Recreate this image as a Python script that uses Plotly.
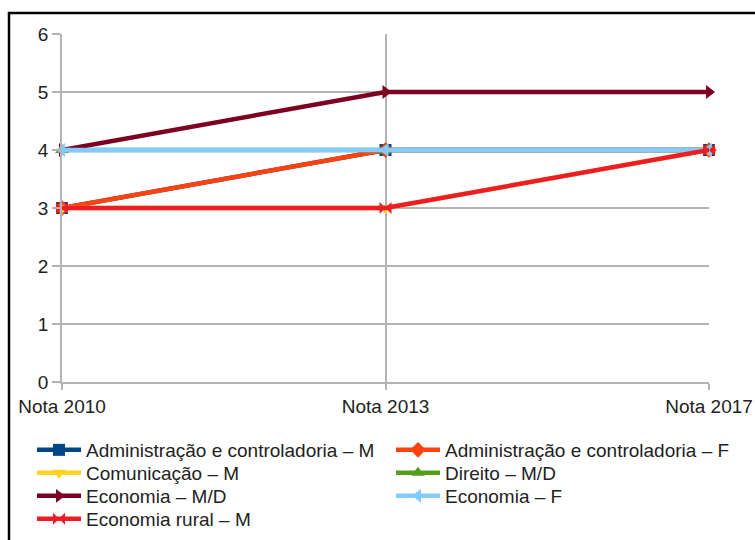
import plotly.graph_objects as go

# Categories and series values
categories = ["Nota 2010", "Nota 2013", "Nota 2017"]

series_names = [
    "Administração e controladoria – M",
    "Administração e controladoria – F",
    "Comunicação – M",
    "Direito – M/D",
    "Economia – M/D",
    "Economia – F",
    "Economia rural – M",
]

adm_m = [3, 4, 4]
adm_f = [3, 4, 4]
comunicacao_m = [3, 3, 4]
direito_md = [4, 4, 4]
economia_md = [4, 5, 5]
economia_f = [4, 4, 4]
economia_rural_m = [3, 3, 4]

series_values = [adm_m, adm_f, comunicacao_m, direito_md, economia_md, economia_f, economia_rural_m]

colors = ["#004586", "#ff420e", "#ffd320", "#579d1c", "#7e0021", "#83caff", "#ee1c25"]
symbols = ["square", "diamond", "triangle-down", "triangle-up",
           "triangle-right", "triangle-left", "bowtie"]

y_ticks = [0, 1, 2, 3, 4, 5, 6]

W, H = 755, 540
ML, MR, MT, MB = 62, 46, 34, 158
plot_w = W - ML - MR
plot_h = H - MT - MB

def px_to_paper_x(px):
    return (px - ML) / plot_w

def px_to_paper_y(py):
    return (H - MB - py) / plot_h

# Legend grid: two columns, rows filled left to right
legend_cols_px = [32, 391]
legend_rows_px = [450, 473, 496, 519]

x_pos = list(range(len(categories)))
grid = "#b3b3b3"
font_family = "Liberation Sans, Arial, sans-serif"

fig = go.Figure()
legend_layouts = {}
for i, (name, vals, col, sym) in enumerate(zip(series_names, series_values, colors, symbols)):
    key = "legend" if i == 0 else f"legend{i + 1}"
    fig.add_trace(go.Scatter(
        x=x_pos, y=vals, name=name, mode="lines+markers",
        line=dict(color=col, width=4.5),
        marker=dict(symbol=sym, size=12, color=col, line=dict(width=0)),
        cliponaxis=False,
        legend=key,
    ))
    legend_layouts[key] = dict(
        orientation="v",
        x=px_to_paper_x(legend_cols_px[i % 2]), xanchor="left",
        y=px_to_paper_y(legend_rows_px[i // 2]), yanchor="middle",
        font=dict(family=font_family, size=19, color="#222222"),
        bgcolor="rgba(0,0,0,0)",
        itemwidth=44,
    )

fig.update_layout(
    width=W, height=H,
    margin=dict(l=ML, r=MR, t=MT, b=MB, autoexpand=False),
    paper_bgcolor="white", plot_bgcolor="white",
    font=dict(family=font_family, size=19, color="#222222"),
    showlegend=True,
    xaxis=dict(
        range=[0, len(categories) - 1],
        tickvals=x_pos, ticktext=categories,
        showgrid=True, gridcolor=grid, gridwidth=1.5,
        showline=True, linecolor=grid, linewidth=1.5,
        ticks="outside", ticklen=6, tickcolor=grid, tickwidth=1.5,
        zeroline=False,
        tickfont=dict(size=19),
    ),
    yaxis=dict(
        range=[0, 6],
        tickvals=y_ticks,
        showgrid=True, gridcolor=grid, gridwidth=1.5,
        showline=True, linecolor=grid, linewidth=1.5,
        ticks="outside", ticklen=8, tickcolor=grid, tickwidth=1.5,
        zeroline=False,
        tickfont=dict(size=19),
    ),
    shapes=[dict(
        type="rect", xref="paper", yref="paper",
        x0=px_to_paper_x(9), x1=px_to_paper_x(W + 20),
        y0=px_to_paper_y(H + 20), y1=px_to_paper_y(13),
        line=dict(color="black", width=2.5), fillcolor="rgba(0,0,0,0)",
        layer="below",
    )],
    **legend_layouts,
)

fig.write_html("out.html")
